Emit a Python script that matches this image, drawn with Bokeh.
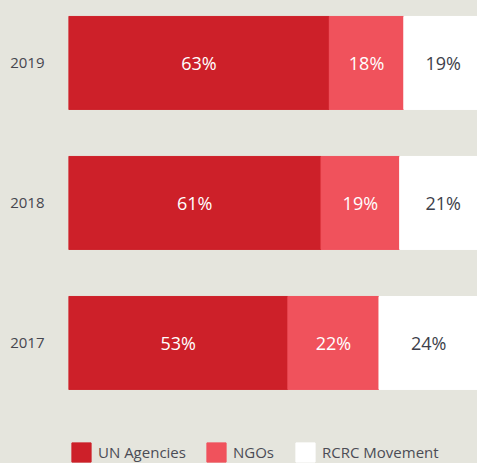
from bokeh.plotting import figure
from bokeh.models import ColumnDataSource, Range1d, FixedTicker, Legend, LegendItem
from bokeh.embed import file_html
from bokeh.resources import INLINE

# ---- data ----
years = [2019, 2018, 2017]
year_labels = ["2019", "2018", "2017"]
un_agencies = [63, 61, 53]
ngos = [18, 19, 22]
rcrc = [19, 21, 24]
series_keys = ["un", "ngo", "rcrc"]
series_names = ["UN Agencies", "NGOs", "RCRC Movement"]

# ---- style ----
BG = "#e5e5dd"
COLORS = ["#cd2029", "#f0525c", "#ffffff"]
TEXT_COLORS = ["#ffffff", "#ffffff", "#3d3f4b"]
FONT = "Open Sans"

src = ColumnDataSource(dict(year=years, un=un_agencies, ngo=ngos, rcrc=rcrc))

p = figure(width=477, height=463, output_backend="svg", toolbar_location=None,
           x_range=Range1d(0, 98.8), y_range=Range1d(2016.139, 2019.446),
           x_axis_location=None, min_border_left=68, min_border_right=0,
           min_border_top=0, min_border_bottom=0)
p.background_fill_color = BG
p.border_fill_color = BG
p.outline_line_color = None
p.grid.visible = False

renderers = p.hbar_stack(series_keys, y="year", height=0.664, color=COLORS, source=src)

# value labels centred in each segment
lx, ly, lt, lc = [], [], [], []
series_vals = [un_agencies, ngos, rcrc]
for i, yr in enumerate(years):
    start = 0
    for s, vals in enumerate(series_vals):
        v = vals[i]
        lx.append(start + v / 2)
        ly.append(yr)
        lt.append(f"{v}%")
        lc.append(TEXT_COLORS[s])
        start += v
lab_src = ColumnDataSource(dict(x=lx, y=ly, text=lt, color=lc))
p.text(x="x", y="y", text="text", source=lab_src, text_color="color",
       text_align="center", text_baseline="middle",
       text_font={"value": FONT}, text_font_size={"value": "18px"})

# y axis with years
ax = p.yaxis[0]
ax.ticker = FixedTicker(ticks=years)
ax.major_label_overrides = {y: l for y, l in zip(years, year_labels)}
ax.axis_line_color = None
ax.major_tick_line_color = None
ax.minor_tick_line_color = None
ax.major_tick_out = 0
ax.major_tick_in = 0
ax.major_label_standoff = 24
ax.major_label_text_font = FONT
ax.major_label_text_font_size = "15px"
ax.major_label_text_color = "#45464f"

# legends (one per item for exact placement)
legend_x = [1, 136, 225]
for name, r, lxp in zip(series_names, renderers, legend_x):
    leg = Legend(items=[LegendItem(label=name, renderers=[r])], location=(lxp, -1),
                 orientation="horizontal", glyph_width=24, glyph_height=24,
                 label_standoff=5, padding=0, margin=0, spacing=0,
                 background_fill_alpha=0, border_line_alpha=0,
                 label_text_font=FONT, label_text_font_size="15px",
                 label_text_color="#4b4c55")
    p.add_layout(leg)

html = file_html(p, INLINE, title="chart")
i = html.rfind("<body")
if i >= 0:
    html = html[:i] + '<body style="background-color:%s;"' % BG + html[i + 5:]
open("out.html", "w").write(html)
